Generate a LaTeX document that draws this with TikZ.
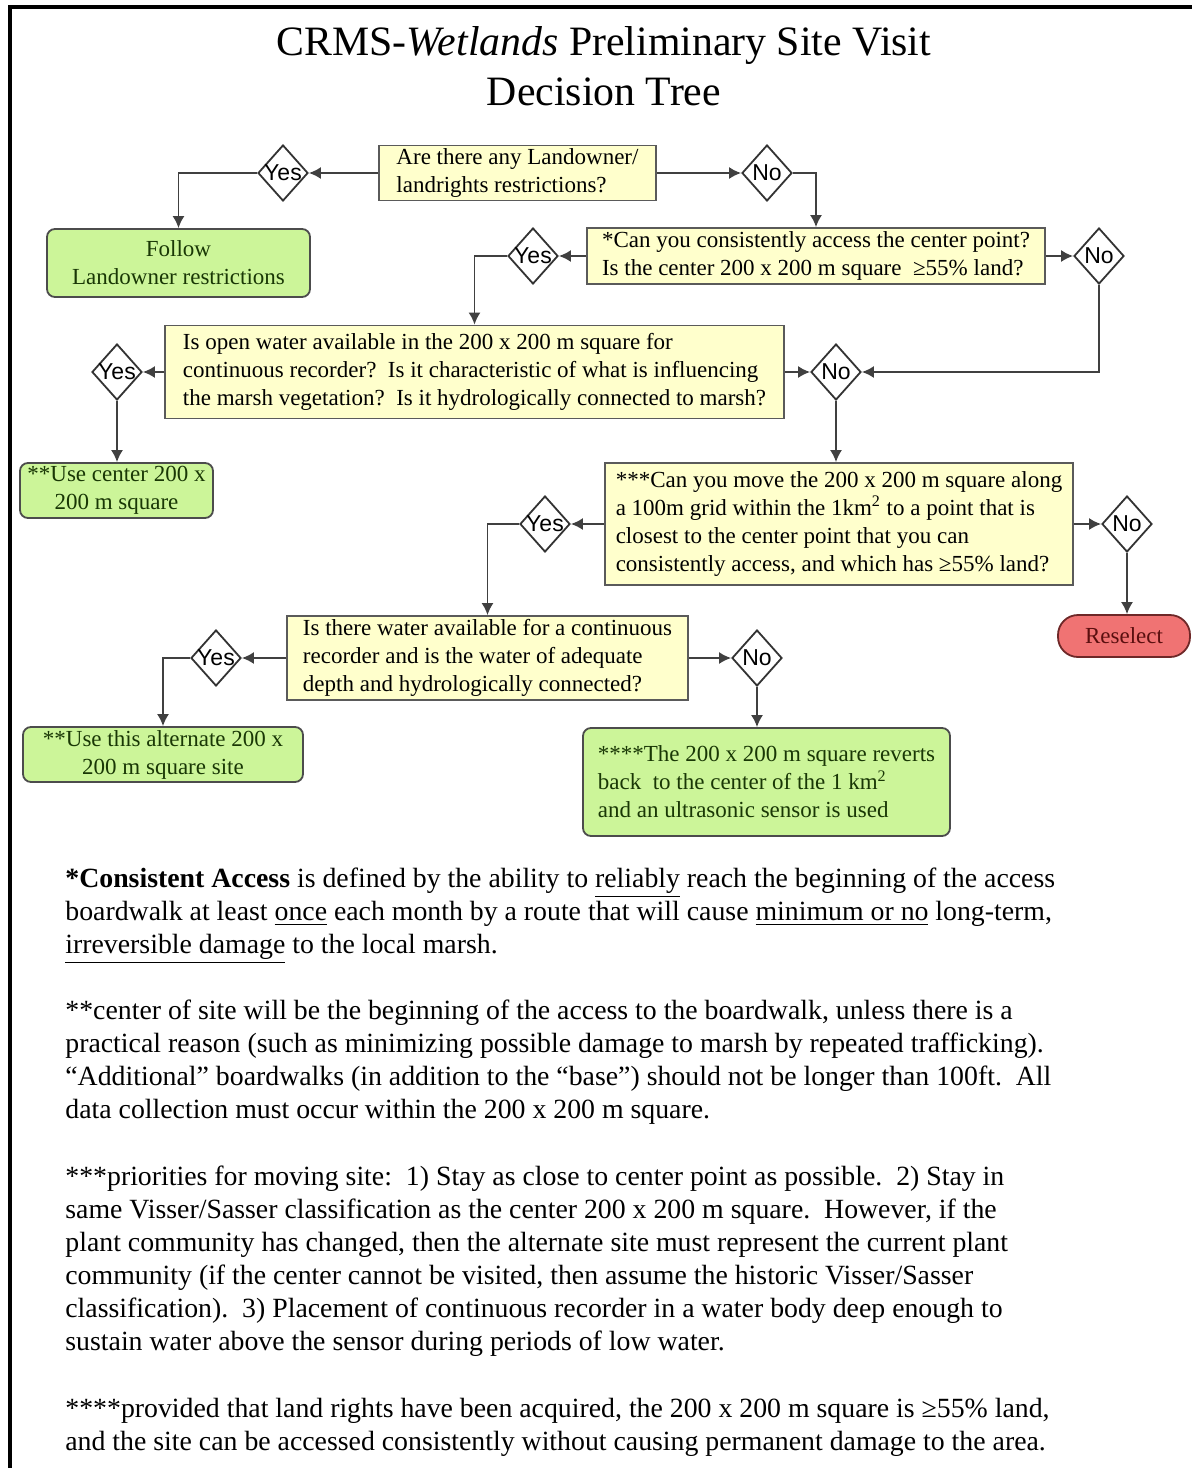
\documentclass[tikz,border=0pt]{standalone}
\usepackage{fontspec}
\setmainfont{Liberation Serif}
\newfontfamily\diafont{Liberation Sans}
\usetikzlibrary{shapes.geometric,arrows.meta}
\definecolor{qyellow}{RGB}{255,255,204}
\definecolor{qborder}{RGB}{90,90,90}
\definecolor{ggreen}{RGB}{204,245,153}
\definecolor{gtext}{RGB}{25,55,5}
\definecolor{rred}{RGB}{240,115,115}
\definecolor{rtext}{RGB}{90,15,15}
\definecolor{rborder}{RGB}{110,40,40}
\begin{document}
\begin{tikzpicture}[x=0.5pt,y=-0.5pt,
  qbox/.style={draw=qborder, fill=qyellow, line width=0.9pt, align=left, inner sep=0pt,
    font=\fontsize{11.5}{14}\selectfont},
  gbox/.style={draw=black!70, fill=ggreen, line width=0.9pt, rounded corners=4pt, align=center,
    inner sep=0pt, text=gtext, font=\fontsize{11.5}{14}\selectfont},
  rbox/.style={draw=rborder, fill=rred, line width=0.9pt, rounded corners=10pt, align=center,
    inner sep=0pt, text=rtext, font=\fontsize{11.5}{14}\selectfont},
  dia/.style={diamond, draw=black!80, fill=white, line width=0.9pt, inner sep=0pt,
    minimum width=25pt, minimum height=28pt},
  dlab/.style={font=\diafont\fontsize{11.5}{11.5}\selectfont, inner sep=0pt},
  conn/.style={draw=black!75, line width=0.9pt, -{Latex[length=6pt,width=6pt]}},
  para/.style={anchor=north west, align=left, inner sep=0pt, font=\fontsize{13.9}{16.5}\selectfont}
]
\useasboundingbox (0,0) rectangle (1192,1468);
\fill[white] (0,0) rectangle (1192,1468);
% page frame
\draw[line width=2pt] (10,1468) -- (10,7) -- (1192,7);

% title
\node[align=center, font=\fontsize{20.9}{25}\selectfont, inner sep=0pt] (title) at (604,66)
  {CRMS-\textit{Wetlands} Preliminary Site Visit\\Decision Tree};

% boxes
\node[qbox, minimum width=138.5pt, minimum height=27.5pt] (q1) at (517.5,173)
  {Are there any Landowner/\\landrights restrictions?};
\node[gbox, minimum width=131.5pt, minimum height=34pt] (follow) at (178.5,263)
  {Follow\\Landowner restrictions};
\node[qbox, minimum width=229pt, minimum height=28pt] (q2) at (816,256)
  {*Can you consistently access the center point?\\Is the center 200 x 200 m square\ \ ≥55\% land?};
\node[qbox, minimum width=309.5pt, minimum height=46.5pt] (q3) at (474.5,372)
  {Is open water available in the 200 x 200 m square for\\continuous recorder?\ \ Is it characteristic of what is influencing\\the marsh vegetation?\ \ Is it hydrologically connected to marsh?};
\node[gbox, minimum width=96.5pt, minimum height=27.5pt] (usec) at (116.5,490.5)
  {**Use center 200 x\\200 m square};
\node[qbox, minimum width=234pt, minimum height=61pt] (q4) at (839,524)
  {***Can you move the 200 x 200 m square along\\a 100m grid within the 1km\textsuperscript{2} to a point that is\\closest to the center point that you can\\consistently access, and which has ≥55\% land?};
\node[rbox, minimum width=66pt, minimum height=21pt] (resel) at (1124,636) {Reselect};
\node[qbox, minimum width=200.5pt, minimum height=42pt] (q5) at (487.5,658)
  {Is there water available for a continuous\\recorder and is the water of adequate\\depth and hydrologically connected?};
\node[gbox, minimum width=140pt, minimum height=27.5pt] (usealt) at (163,754.5)
  {**Use this alternate 200 x\\200 m square site};
\node[gbox, align=left, minimum width=183.5pt, minimum height=54pt] (rev) at (766.5,782)
  {****The 200 x 200 m square reverts\\back\ \ to the center of the 1 km\textsuperscript{2}\\and an ultrasonic sensor is used};

% decision diamonds
\node[dia, label={[dlab]center:Yes}] (y1) at (283,173) {};
\node[dia, label={[dlab]center:No}] (n1) at (767,173) {};
\node[dia, label={[dlab]center:Yes}] (y2) at (533,256) {};
\node[dia, label={[dlab]center:No}] (n2) at (1099,256) {};
\node[dia, label={[dlab]center:Yes}] (y3) at (117,372) {};
\node[dia, label={[dlab]center:No}] (n3) at (836,372) {};
\node[dia, label={[dlab]center:Yes}] (y4) at (545,524) {};
\node[dia, label={[dlab]center:No}] (n4) at (1127,524) {};
\node[dia, label={[dlab]center:Yes}] (y5) at (216,658) {};
\node[dia, label={[dlab]center:No}] (n5) at (757,658) {};

% connectors
\draw[conn] (q1.west) -- (y1.east);
\draw[conn] (y1.west) -| (follow.north);
\draw[conn] (q1.east) -- (n1.west);
\draw[conn] (n1.east) -| (q2.north);
\draw[conn] (q2.west) -- (y2.east);
\draw[conn] (y2.west) -| (q3.north);
\draw[conn] (q2.east) -- (n2.west);
\draw[conn] (n2.south) |- (n3.east);
\draw[conn] (q3.west) -- (y3.east);
\draw[conn] (y3.south) -- (y3.south |- usec.north);
\draw[conn] (q3.east) -- (n3.west);
\draw[conn] (n3.south) -- (n3.south |- q4.north);
\draw[conn] (q4.west) -- (y4.east);
\draw[conn] (y4.west) -| (q5.north);
\draw[conn] (q4.east) -- (n4.west);
\draw[conn] (n4.south) -- (n4.south |- resel.north);
\draw[conn] (q5.west) -- (y5.east);
\draw[conn] (y5.west) -| (usealt.north);
\draw[conn] (q5.east) -- (n5.west);
\draw[conn] (n5.south) -- (n5.south |- rev.north);

% notes
\node[para] (p1) at (65,868)
  {\textbf{*Consistent Access} is defined by the ability to \underline{reliably} reach the beginning of the access\\
   boardwalk at least \underline{once} each month by a route that will cause \underline{minimum or no} long-term,\\
   \underline{irreversible damage} to the local marsh.};
\node[para] (p2) at (65,1000)
  {**center of site will be the beginning of the access to the boardwalk, unless there is a\\
   practical reason (such as minimizing possible damage to marsh by repeated trafficking).\\
   “Additional” boardwalks (in addition to the “base”) should not be longer than 100ft.\ \ All\\
   data collection must occur within the 200 x 200 m square.};
\node[para] (p3) at (65,1166)
  {***priorities for moving site:\ \ 1) Stay as close to center point as possible.\ \ 2) Stay in\\
   same Visser/Sasser classification as the center 200 x 200 m square.\ \ However, if the\\
   plant community has changed, then the alternate site must represent the current plant\\
   community (if the center cannot be visited, then assume the historic Visser/Sasser\\
   classification).\ \ 3) Placement of continuous recorder in a water body deep enough to\\
   sustain water above the sensor during periods of low water.};
\node[para] (p4) at (65,1398)
  {****provided that land rights have been acquired, the 200 x 200 m square is ≥55\% land,\\
   and the site can be accessed consistently without causing permanent damage to the area.};
\end{tikzpicture}
\end{document}
